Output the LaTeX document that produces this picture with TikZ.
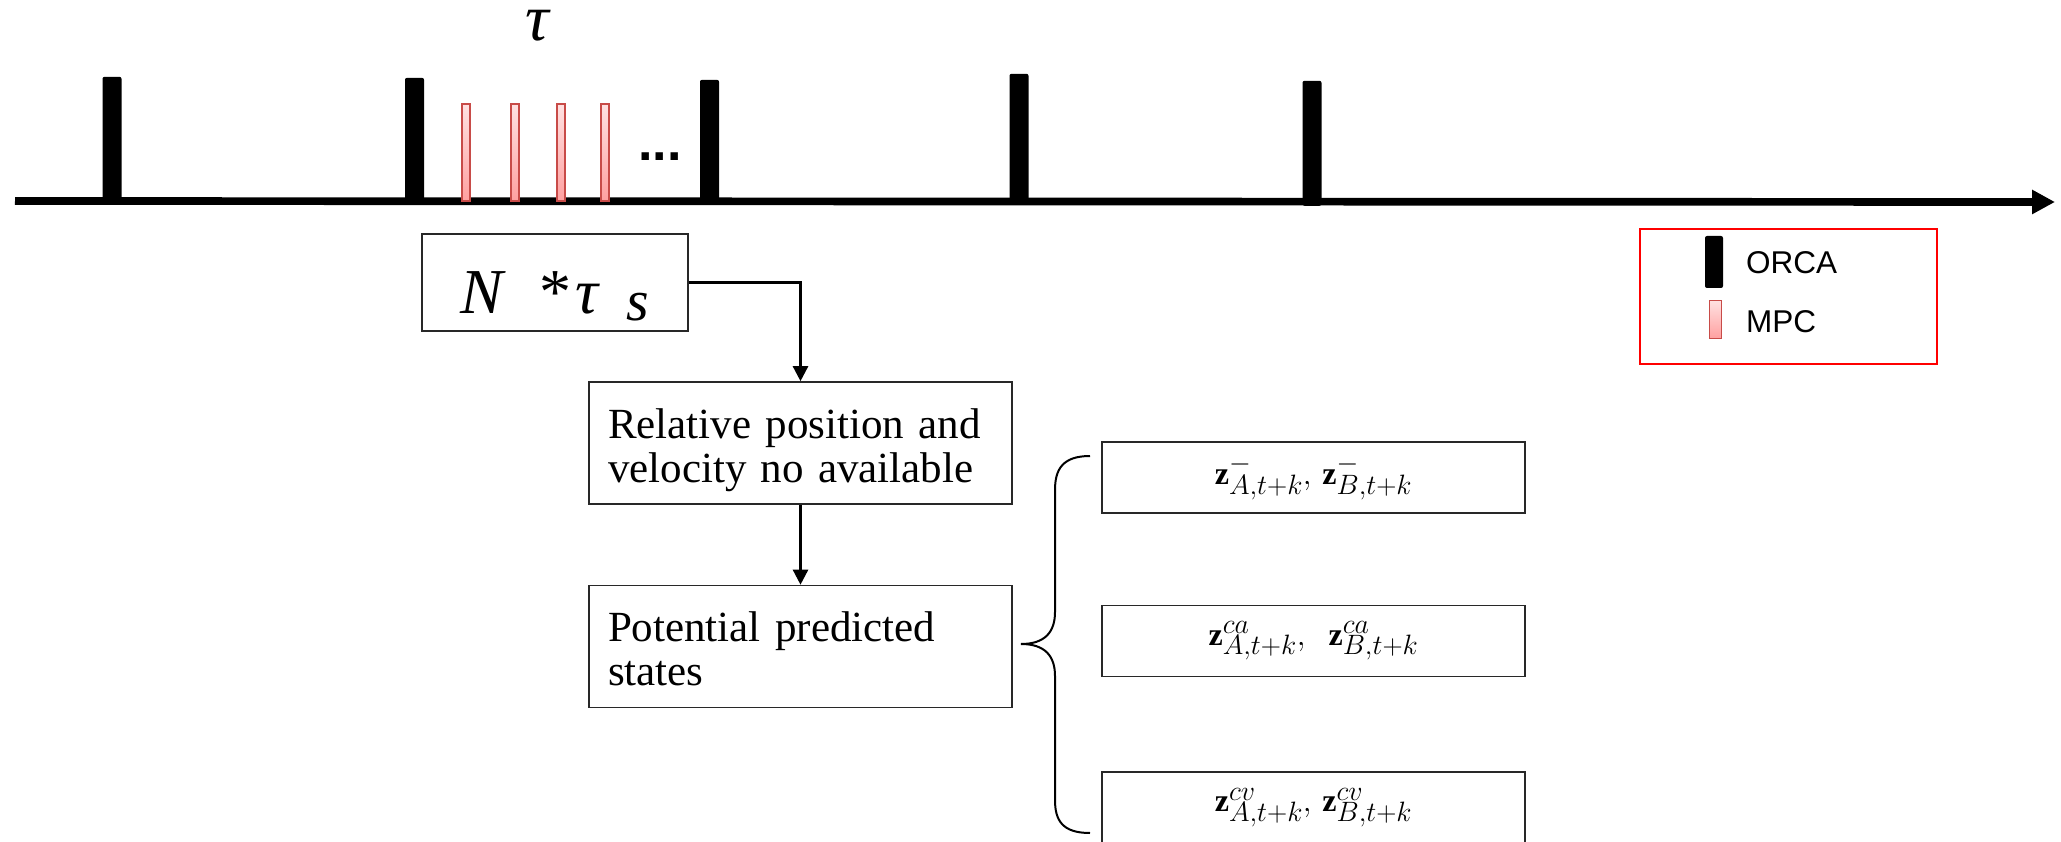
\RequirePackage{fix-cm}
\documentclass[tikz,border=0pt]{standalone}
\usepackage{fontspec}
\setmainfont{Liberation Serif}
\newfontfamily\legendfont{Liberation Sans}
\usetikzlibrary{arrows.meta}
\DeclareMathSizes{32}{32}{28}{22}
\definecolor{mpcborder}{RGB}{200,75,72}
\definecolor{mpctop}{RGB}{255,225,225}
\definecolor{mpcbot}{RGB}{255,160,160}
\definecolor{boxline}{RGB}{40,40,40}
\begin{document}
\begin{tikzpicture}[x=1pt,y=-1pt,
  orca/.style={fill=black, rounded corners=2pt, minimum width=19pt, inner sep=0pt, anchor=south},
  mpcbar/.style={draw=mpcborder, line width=1.8pt, top color=mpctop, bottom color=mpcbot, minimum width=8.5pt, minimum height=97pt, inner sep=0pt, anchor=south},
  stepbox/.style={draw=boxline, line width=1.6pt, inner xsep=19pt, inner ysep=0pt, align=left, text width=385pt, minimum width=423pt, minimum height=122pt, text height=30pt, text depth=40pt, font=\fontsize{43}{44}\selectfont},
  mathbox/.style={draw=boxline, line width=1.4pt, minimum width=423pt, minimum height=71pt, inner sep=0pt, font=\fontsize{32}{34}\selectfont},
  conn/.style={line width=2.5pt, -{Triangle[length=15pt,width=15pt]}},
  legtext/.style={font=\legendfont\fontsize{31.5}{34}\selectfont, anchor=west, inner sep=0pt}
]
\useasboundingbox (0,0) rectangle (2061,842);
\clip (0,0) rectangle (2061,842);

% time axis
\coordinate (axL) at (15,201);
\coordinate (axR) at (2055,202);
\draw[line width=7.7pt, -{Triangle[length=23pt,width=23pt]}] (axL) -- (axR);

% ORCA bars
\node[orca, minimum height=124pt] (o1) at (112,201) {};
\node[orca, minimum height=123pt] (o2) at (414.5,201) {};
\node[orca, minimum height=125pt] (o3) at (709.5,205) {};
\node[orca, minimum height=127pt] (o4) at (1019,201) {};
\node[orca, minimum height=125pt] (o5) at (1312,206) {};

% MPC bars
\node[mpcbar] (m1) at (466,202) {};
\node[mpcbar] (m2) at (515,202) {};
\node[mpcbar] (m3) at (561,202) {};
\node[mpcbar] (m4) at (605,202) {};

\node[font=\legendfont\bfseries\fontsize{52}{52}\selectfont, anchor=base west, inner sep=0pt] (dots) at (638,161) {...};
\node[font=\itshape\fontsize{66}{66}\selectfont, inner sep=0pt] (tau) at (537,26) {τ};

% N * tau_s box
\node[draw=boxline, line width=1.6pt, minimum width=266pt, minimum height=97pt, inner sep=0pt, text height=61pt, text depth=0pt, font=\fontsize{64}{64}\selectfont] (nts) at (555,282.5)
  {\itshape N\hspace{36pt}\upshape*\hspace{4pt}\itshape τ\hspace{28pt}\raisebox{-7pt}{\fontsize{58}{58}\selectfont s}};

% flow boxes
\node[stepbox] (rel) at (800.5,443) {Relative position and\\velocity no available};
\node[stepbox] (pot) at (800.5,646.5) {Potential predicted\\states};

\draw[conn] (nts.east) -| (rel.north);
\draw[conn] (rel.south) -- (pot.north);

% brace
\draw[line width=2pt] (1090,456) .. controls (1062,456) and (1055,470) .. (1055,490) -- (1055,612)
  .. controls (1055,632) and (1045,644) .. (1021,644)
  .. controls (1045,644) and (1055,656) .. (1055,676) -- (1055,800)
  .. controls (1055,820) and (1062,833) .. (1090,833);

% state boxes
\node[mathbox] (z1) at (1313.5,477.5) {$\mathbf{z}^{-}_{A,t+k},\,\mathbf{z}^{-}_{B,t+k}$};
\node[mathbox] (z2) at (1313.5,641) {$\mathbf{z}^{ca}_{A,t+k},\;\;\mathbf{z}^{ca}_{B,t+k}$};
\node[mathbox] (z3) at (1313.5,807.5) {$\mathbf{z}^{cv}_{A,t+k},\,\mathbf{z}^{cv}_{B,t+k}$};

% legend
\node[draw=red, line width=1.5pt, minimum width=297pt, minimum height=135pt, inner sep=0pt] (legend) at (1788.5,296.5) {};
\node[fill=black, rounded corners=2pt, minimum width=18pt, minimum height=52pt, inner sep=0pt] (lo) at (1714,262) {};
\node[draw=mpcborder, line width=1.8pt, top color=mpctop, bottom color=mpcbot, minimum width=12pt, minimum height=38pt, inner sep=0pt] (lm) at (1715.5,319.5) {};
\node[legtext] (lotext) at (1746,263) {ORCA};
\node[legtext] (lmtext) at (1746,322) {MPC};
\end{tikzpicture}
\end{document}
